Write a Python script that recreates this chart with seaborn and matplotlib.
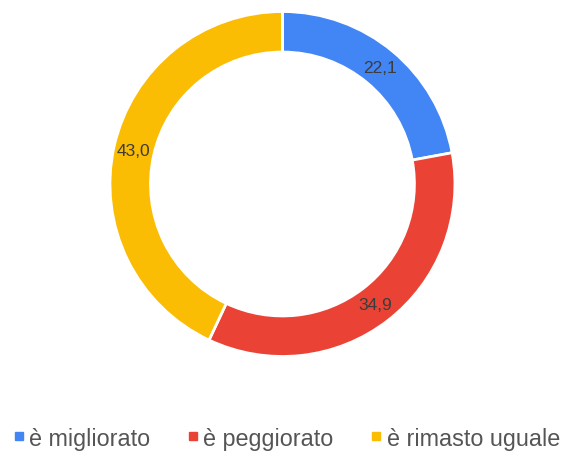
import matplotlib
matplotlib.use("Agg")
import matplotlib.pyplot as plt
import seaborn as sns
import numpy as np
from matplotlib.lines import Line2D

# dati
categorie = ["è migliorato", "è peggiorato", "è rimasto uguale"]
valori = [22.1, 34.9, 43.0]
etichette = ["22,1", "34,9", "43,0"]
colori = ["#4285F4", "#EA4335", "#FBBC04"]

sns.set_theme(style="white")
plt.rcParams["font.family"] = ["Liberation Sans", "DejaVu Sans"]

fig = plt.figure(figsize=(5.66, 4.56), dpi=100)
ax = fig.add_axes([0.1943, 0.216, 0.6095, 0.7566])

spessore = 0.235
wedges, _ = ax.pie(valori, colors=colori, startangle=90, counterclock=False,
                   radius=1, wedgeprops=dict(width=spessore, edgecolor="white", linewidth=2))

# etichette al centro dell'anello
r_mid = 1 - spessore / 2
tot = sum(valori)
cum = 0
for v, lab in zip(valori, etichette):
    ang = np.deg2rad(90 - 360 * (cum + v / 2) / tot)
    ax.text(r_mid * np.cos(ang), r_mid * np.sin(ang), lab, ha="center", va="center",
            fontsize=12.5, color="#3c3c3c")
    cum += v

ax.set_xlim(-1, 1)
ax.set_ylim(-1, 1)
ax.set_aspect("equal")
ax.axis("off")

handles = [Line2D([0], [0], marker="s", linestyle="", markersize=5.5,
                  markerfacecolor=c, markeredgecolor=c) for c in colori]
fig.legend(handles, categorie, loc="center", bbox_to_anchor=(0.507, 0.037), ncol=3,
           frameon=False, fontsize=16.8, labelcolor="#555555", handlelength=0.4,
           handletextpad=0.25, columnspacing=1.62)

fig.savefig("out.png", dpi=100)
